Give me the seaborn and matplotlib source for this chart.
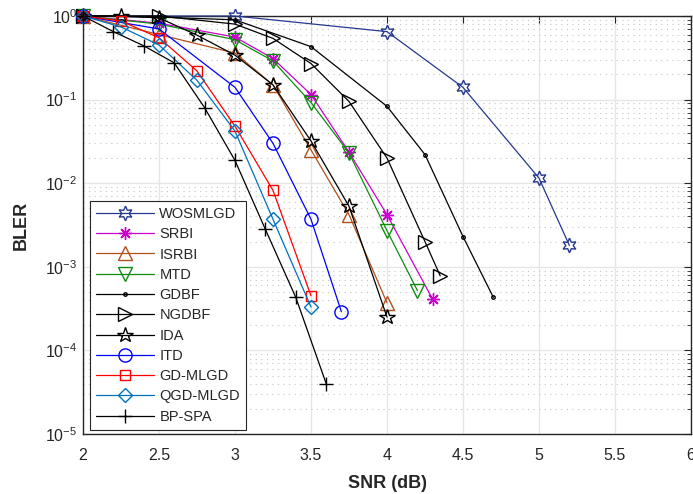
import matplotlib
matplotlib.use("Agg")
import matplotlib.pyplot as plt
import seaborn as sns
import pandas as pd
from matplotlib.ticker import LogLocator, NullFormatter

sns.set_theme(style="white")
plt.rcParams["font.family"] = ["Liberation Sans", "DejaVu Sans"]
plt.rcParams["mathtext.default"] = "regular"
plt.rcParams["axes.unicode_minus"] = False

# SNR points (dB) and block error rates for each decoder
snr_wosmlgd = [2, 3, 4, 4.5, 5, 5.2]
bler_wosmlgd = [1, 1, 0.65, 0.14, 0.0115, 0.0018]

snr_srbi = [2, 2.5, 3, 3.25, 3.5, 3.75, 4, 4.3]
bler_srbi = [1, 0.82, 0.56, 0.31, 0.115, 0.0235, 0.0042, 0.00041]

snr_isrbi = [2, 2.5, 3, 3.25, 3.5, 3.75, 4]
bler_isrbi = [1, 0.6, 0.36, 0.15, 0.025, 0.0042, 0.00037]

snr_mtd = [2, 2.5, 3, 3.25, 3.5, 3.75, 4, 4.2]
bler_mtd = [1, 0.8, 0.52, 0.29, 0.092, 0.023, 0.0027, 0.00052]

snr_gdbf = [2, 2.5, 3, 3.5, 4, 4.25, 4.5, 4.7]
bler_gdbf = [1, 0.97, 0.9, 0.43, 0.083, 0.022, 0.0023, 0.00043]

snr_ngdbf = [2, 2.5, 3, 3.25, 3.5, 3.75, 4, 4.25, 4.35]
bler_ngdbf = [1, 1, 0.8, 0.54, 0.27, 0.095, 0.02, 0.002, 0.00078]

snr_ida = [2, 2.25, 2.5, 2.75, 3, 3.25, 3.5, 3.75, 4]
bler_ida = [1, 1, 0.95, 0.59, 0.34, 0.15, 0.032, 0.0053, 0.00025]

snr_itd = [2, 2.5, 3, 3.25, 3.5, 3.7]
bler_itd = [1, 0.7, 0.14, 0.03, 0.0037, 0.00029]

snr_gdmlgd = [2, 2.25, 2.5, 2.75, 3, 3.25, 3.5]
bler_gdmlgd = [1, 0.87, 0.55, 0.22, 0.048, 0.0082, 0.00045]

snr_qgdmlgd = [2, 2.25, 2.5, 2.75, 3, 3.25, 3.5]
bler_qgdmlgd = [1, 0.74, 0.45, 0.17, 0.042, 0.0037, 0.00033]

snr_bpspa = [2, 2.2, 2.4, 2.6, 2.8, 3, 3.2, 3.4, 3.6]
bler_bpspa = [1, 0.65, 0.44, 0.275, 0.08, 0.0187, 0.0028, 0.00043, 0.00004]

x_ticks = [2, 2.5, 3, 3.5, 4, 4.5, 5, 5.5, 6]

series = [
    ("WOSMLGD", snr_wosmlgd, bler_wosmlgd, "#25398f", (6, 1, 0), 10.5),
    ("SRBI", snr_srbi, bler_srbi, "#cc00cc", (8, 2, 0), 9),
    ("ISRBI", snr_isrbi, bler_isrbi, "#b0501a", "^", 9.5),
    ("MTD", snr_mtd, bler_mtd, "#0f8c0f", "v", 9.5),
    ("GDBF", snr_gdbf, bler_gdbf, "black", ".", 5),
    ("NGDBF", snr_ngdbf, bler_ngdbf, "black", ">", 9.5),
    ("IDA", snr_ida, bler_ida, "black", "*", 11.5),
    ("ITD", snr_itd, bler_itd, "#0000ff", "o", 9.5),
    ("GD-MLGD", snr_gdmlgd, bler_gdmlgd, "#ff0000", "s", 7.5),
    ("QGD-MLGD", snr_qgdmlgd, bler_qgdmlgd, "#0072bd", "D", 7),
    ("BP-SPA", snr_bpspa, bler_bpspa, "black", "+", 9.5),
]

fig = plt.figure(figsize=(6.93, 4.94), dpi=100)
ax = fig.add_axes([83 / 693, 1 - 434 / 494, (691 - 83) / 693, (434 - 16) / 494])

for name, xs, ys, color, marker, ms in series:
    df = pd.DataFrame({"SNR": xs, "BLER": ys})
    sns.lineplot(data=df, x="SNR", y="BLER", ax=ax, color=color,
                 marker=marker, markersize=ms, markerfacecolor="none",
                 markeredgecolor=color, markeredgewidth=1.0,
                 linewidth=0.9, label=name, clip_on=False, zorder=3)

ax.set_yscale("log")
ax.set_xlim(2, 6)
ax.set_ylim(1e-5, 1)
ax.set_xticks(x_ticks)
ax.set_xticklabels([f"{t:g}" for t in x_ticks])
ax.yaxis.set_major_locator(LogLocator(base=10, numticks=10))
ax.yaxis.set_minor_locator(LogLocator(base=10, subs=range(2, 10), numticks=20))
ax.yaxis.set_minor_formatter(NullFormatter())

ax.grid(True, which="major", color="#e6e6e6", linewidth=1.0, linestyle="-", zorder=0)
ax.grid(True, which="minor", axis="y", color="#c4c4c4", linewidth=0.8,
        linestyle=(0, (1, 4)), zorder=0)
ax.set_axisbelow(True)

for sp in ax.spines.values():
    sp.set_color("#262626")
    sp.set_linewidth(1.0)
    sp.set_visible(True)

ax.tick_params(which="both", direction="in", top=True, right=True,
               colors="#262626", labelsize=11.5)
ax.tick_params(which="major", length=5, width=0.8)
ax.tick_params(which="minor", length=3, width=0.6)
ax.tick_params(axis="x", pad=10)
ax.tick_params(axis="y", pad=4)

ax.set_xlabel("SNR (dB)", fontsize=13, fontweight="bold", color="#262626", labelpad=9)
ax.set_ylabel("BLER", fontsize=13, fontweight="bold", color="#262626", labelpad=11)

leg = ax.legend(loc="upper left", bbox_to_anchor=(0.0115, 0.557), borderaxespad=0,
                fontsize=10.5, handlelength=4.0, handletextpad=0.35,
                labelspacing=0.43, borderpad=0.4, fancybox=False,
                framealpha=1, edgecolor="#262626")
leg.get_frame().set_linewidth(0.8)

fig.savefig("out.png", dpi=100)
